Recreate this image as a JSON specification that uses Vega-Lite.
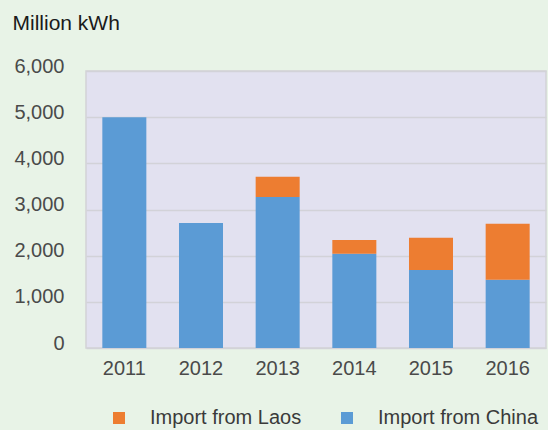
{
  "$schema": "https://vega.github.io/schema/vega-lite/v6.json",
  "autosize": "none",
  "width": 460,
  "height": 277,
  "padding": {"left": 86, "top": 71, "right": 2, "bottom": 82},
  "background": "#e8f3e7",
  "config": {
    "font": "Liberation Sans",
    "view": {"fill": "#e2e1f0", "stroke": "#d2d2d6", "strokeWidth": 1.5}
  },
  "data": {
    "values": [
      {"year": "2011", "source": "Import from China", "value": 5000},
      {"year": "2011", "source": "Import from Laos", "value": 0},
      {"year": "2012", "source": "Import from China", "value": 2710},
      {"year": "2012", "source": "Import from Laos", "value": 0},
      {"year": "2013", "source": "Import from China", "value": 3270},
      {"year": "2013", "source": "Import from Laos", "value": 440},
      {"year": "2014", "source": "Import from China", "value": 2040},
      {"year": "2014", "source": "Import from Laos", "value": 300},
      {"year": "2015", "source": "Import from China", "value": 1690},
      {"year": "2015", "source": "Import from Laos", "value": 700},
      {"year": "2016", "source": "Import from China", "value": 1480},
      {"year": "2016", "source": "Import from Laos", "value": 1210}
    ]
  },
  "mark": {"type": "bar"},
  "encoding": {
    "x": {
      "field": "year",
      "type": "nominal",
      "scale": {"paddingInner": 0.426, "paddingOuter": 0.213},
      "axis": {
        "title": null,
        "labelAngle": 0,
        "labelFontSize": 20,
        "labelColor": "#4a4a4a",
        "labelBaseline": "top",
        "labelPadding": 10,
        "ticks": false,
        "domain": false,
        "grid": false
      }
    },
    "y": {
      "field": "value",
      "type": "quantitative",
      "stack": "zero",
      "scale": {"domain": [0, 6000], "nice": false},
      "axis": {
        "values": [0, 1000, 2000, 3000, 4000, 5000, 6000],
        "format": ",d",
        "title": "Million kWh",
        "titleAngle": 0,
        "titleAlign": "left",
        "titleBaseline": "alphabetic",
        "titleX": -74,
        "titleY": -42,
        "titleFontSize": 21,
        "titleFontWeight": "normal",
        "titleColor": "#1a1a1a",
        "labelFontSize": 20,
        "labelColor": "#4a4a4a",
        "labelPadding": 22,
        "labelOffset": -5,
        "ticks": false,
        "domain": false,
        "grid": true,
        "gridColor": "#d2d2d8",
        "gridWidth": 1.5
      }
    },
    "order": {"field": "source", "sort": "ascending"},
    "color": {
      "field": "source",
      "type": "nominal",
      "scale": {
        "domain": ["Import from Laos", "Import from China"],
        "range": ["#ed7d31", "#5b9bd5"]
      },
      "legend": {
        "orient": "none",
        "legendX": 23,
        "legendY": 337,
        "direction": "horizontal",
        "title": null,
        "symbolType": "square",
        "symbolSize": 144,
        "symbolStrokeWidth": 0,
        "labelFontSize": 20,
        "labelColor": "#3a3a3a",
        "labelOffset": 21,
        "labelLimit": 400,
        "columnPadding": 35
      }
    }
  }
}
